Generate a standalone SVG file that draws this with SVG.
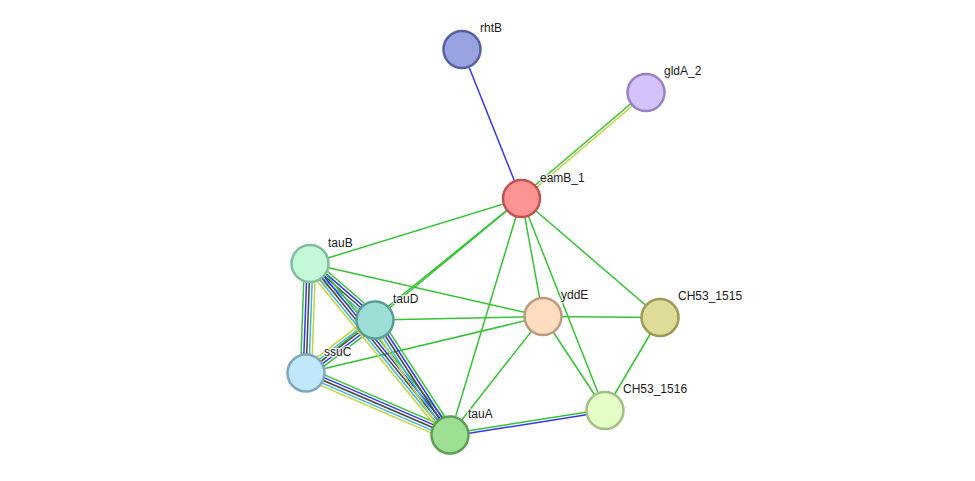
<svg xmlns="http://www.w3.org/2000/svg" width="975" height="481" viewBox="0 0 975 481">
<style>
.e{fill:none;stroke-width:1.5}
.g{stroke:#36c236}
.b{stroke:#3636f2}
.k{stroke:#454545}
.c{stroke:#3cb6d6}
.y{stroke:#c4d43a}
.n circle{stroke-width:2.5}
text{font-family:"Liberation Sans",Arial,sans-serif;font-size:12px;fill:#1a1a1a;stroke:#ffffff;stroke-width:2.5;stroke-opacity:0.8;paint-order:stroke;stroke-linejoin:round}
</style>
<rect width="975" height="481" fill="#ffffff"/>
<g id="connectors">
<line class="e b" x1="462" y1="49.5" x2="521.5" y2="198.5"/>
<g transform="translate(521.5,198.5) rotate(-40.41)">
<line class="e g" x1="0" y1="-1.3" x2="163.5" y2="-1.3"/>
<line class="e y" x1="0" y1="1.3" x2="163.5" y2="1.3"/>
</g>
<g transform="translate(450,435) rotate(-8.98)">
<line class="e g" x1="0" y1="-1.3" x2="156.9" y2="-1.3"/>
<line class="e b" x1="0" y1="1.3" x2="156.9" y2="1.3"/>
</g>
<line class="e g" x1="521.5" y1="198.5" x2="310" y2="263.5"/>
<line class="e g" x1="521.5" y1="198.5" x2="375" y2="320"/>
<line class="e g" x1="521.5" y1="198.5" x2="306" y2="373"/>
<line class="e g" x1="521.5" y1="198.5" x2="450" y2="435"/>
<line class="e g" x1="521.5" y1="198.5" x2="543" y2="316.5"/>
<line class="e g" x1="521.5" y1="198.5" x2="605" y2="410.5"/>
<line class="e g" x1="521.5" y1="198.5" x2="660" y2="317.5"/>
<line class="e g" x1="543" y1="316.5" x2="660" y2="317.5"/>
<line class="e g" x1="543" y1="316.5" x2="605" y2="410.5"/>
<line class="e g" x1="543" y1="316.5" x2="450" y2="435"/>
<line class="e g" x1="543" y1="316.5" x2="310" y2="263.5"/>
<line class="e g" x1="543" y1="316.5" x2="375" y2="320"/>
<line class="e g" x1="543" y1="316.5" x2="306" y2="373"/>
<line class="e g" x1="660" y1="317.5" x2="605" y2="410.5"/>
<g transform="translate(306,373) rotate(-87.91)">
<line class="e g" x1="0" y1="-5.6" x2="109.6" y2="-5.6"/>
<line class="e b" x1="0" y1="-2.8" x2="109.6" y2="-2.8"/>
<line class="e k" x1="0" y1="0" x2="109.6" y2="0"/>
<line class="e c" x1="0" y1="2.8" x2="109.6" y2="2.8"/>
<line class="e y" x1="0" y1="5.6" x2="109.6" y2="5.6"/>
</g>
<g transform="translate(306,373) rotate(23.29)">
<line class="e g" x1="0" y1="-5.6" x2="156.8" y2="-5.6"/>
<line class="e b" x1="0" y1="-2.8" x2="156.8" y2="-2.8"/>
<line class="e k" x1="0" y1="0" x2="156.8" y2="0"/>
<line class="e c" x1="0" y1="2.8" x2="156.8" y2="2.8"/>
<line class="e y" x1="0" y1="5.6" x2="156.8" y2="5.6"/>
</g>
<g transform="translate(375,320) rotate(142.47)">
<line class="e g" x1="0" y1="-5.6" x2="87" y2="-5.6"/>
<line class="e b" x1="0" y1="-2.8" x2="87" y2="-2.8"/>
<line class="e k" x1="0" y1="0" x2="87" y2="0"/>
<line class="e c" x1="0" y1="2.8" x2="87" y2="2.8"/>
<line class="e y" x1="0" y1="5.6" x2="87" y2="5.6"/>
</g>
<g transform="translate(310,263.5) rotate(41)">
<line class="e g" x1="0" y1="-5.6" x2="86.1" y2="-5.6"/>
<line class="e b" x1="0" y1="-2.8" x2="86.1" y2="-2.8"/>
<line class="e k" x1="0" y1="0" x2="86.1" y2="0"/>
<line class="e c" x1="0" y1="2.8" x2="86.1" y2="2.8"/>
<line class="e y" x1="0" y1="5.6" x2="86.1" y2="5.6"/>
</g>
<g transform="translate(310,263.5) rotate(50.78)">
<line class="e g" x1="0" y1="-5.6" x2="221.4" y2="-5.6"/>
<line class="e b" x1="0" y1="-2.8" x2="221.4" y2="-2.8"/>
<line class="e k" x1="0" y1="0" x2="221.4" y2="0"/>
<line class="e c" x1="0" y1="2.8" x2="221.4" y2="2.8"/>
<line class="e y" x1="0" y1="5.6" x2="221.4" y2="5.6"/>
</g>
<g transform="translate(375,320) rotate(56.89)">
<line class="e g" x1="0" y1="-5.6" x2="137.3" y2="-5.6"/>
<line class="e b" x1="0" y1="-2.8" x2="137.3" y2="-2.8"/>
<line class="e k" x1="0" y1="0" x2="137.3" y2="0"/>
<line class="e c" x1="0" y1="2.8" x2="137.3" y2="2.8"/>
<line class="e y" x1="0" y1="5.6" x2="137.3" y2="5.6"/>
</g>
</g>
<g id="rhtB" class="n"><circle cx="462" cy="49.5" r="18.5" fill="#99a3e1" stroke="#5660a3"/><text x="480" y="32">rhtB</text></g>
<g id="gldA_2" class="n"><circle cx="646" cy="92.5" r="18.5" fill="#d5c2fc" stroke="#9682c6"/><text x="664" y="75">gldA_2</text></g>
<g id="eamB_1" class="n"><circle cx="521.5" cy="198.5" r="18.5" fill="#fd9494" stroke="#c05252"/><text x="540" y="182">eamB_1</text></g>
<g id="tauB" class="n"><circle cx="310" cy="263.5" r="18.5" fill="#c3f9d8" stroke="#80bd9a"/><text x="328" y="247">tauB</text></g>
<g id="tauD" class="n"><circle cx="375" cy="320" r="18.5" fill="#9ddfd6" stroke="#5a9d95"/><text x="393" y="303">tauD</text></g>
<g id="yddE" class="n"><circle cx="543" cy="316.5" r="18.5" fill="#fddcc0" stroke="#bb9a80"/><text x="561" y="299">yddE</text></g>
<g id="CH53_1515" class="n"><circle cx="660" cy="317.5" r="18.5" fill="#dfdb98" stroke="#9c9a55"/><text x="678" y="300">CH53_1515</text></g>
<g id="ssuC" class="n"><circle cx="306" cy="373" r="18.5" fill="#c1e7fb" stroke="#7fa6bd"/><text x="324" y="356">ssuC</text></g>
<g id="CH53_1516" class="n"><circle cx="605" cy="410.5" r="18.5" fill="#e3fdc4" stroke="#a2bf85"/><text x="623" y="393">CH53_1516</text></g>
<g id="tauA" class="n"><circle cx="450" cy="435" r="18.5" fill="#9ddf93" stroke="#5b9e55"/><text x="468" y="418">tauA</text></g>
</svg>
